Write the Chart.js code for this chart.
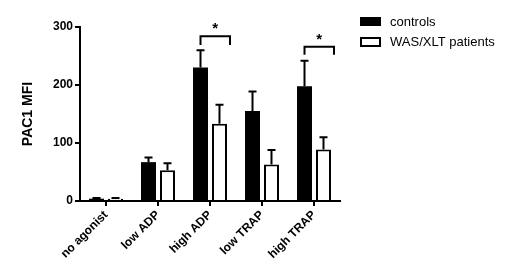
<!DOCTYPE html>
<html>
<head>
<meta charset="utf-8">
<script src="https://cdn.jsdelivr.net/npm/chart.js@4"></script>
<style>
  html, body { margin: 0; padding: 0; background: #fff; }
  #wrap { width: 520px; height: 278px; }
</style>
</head>
<body>
<div id="wrap"><canvas id="chart" width="520" height="278"></canvas></div>
<script>
const categories = ['no agonist', 'low ADP', 'high ADP', 'low TRAP', 'high TRAP'];
const seriesNames = ['controls', 'WAS/XLT patients'];
const controls = [4, 67, 230, 155, 198];
const controlsErr = [1, 8, 30, 34, 44];
const patients = [4, 53, 133, 63, 89];
const patientsErr = [1, 12, 33, 25, 21];
const yTicks = [0, 100, 200, 300];
// significance brackets: group index, bracket top value, drop value
const sigGroups = [2, 4];
const sigTop = [284, 266];
const sigDrop = [269, 252];

const FONT = "Arial, 'Liberation Sans', sans-serif";

// error bars (upward only) + brackets + legend
const extras = {
    id: 'extras',
    afterDatasetsDraw(chart) {
        const ctx = chart.ctx;
        const y = chart.scales.y;
        const errs = [controlsErr, patientsErr];
        const vals = [controls, patients];
        ctx.save();
        ctx.strokeStyle = '#000';
        ctx.lineWidth = 2;
        for (let d = 0; d < 2; d++) {
            const meta = chart.getDatasetMeta(d);
            meta.data.forEach((bar, i) => {
                const top = y.getPixelForValue(vals[d][i] + errs[d][i]);
                const base = y.getPixelForValue(vals[d][i]);
                ctx.beginPath();
                ctx.moveTo(bar.x, base);
                ctx.lineTo(bar.x, top);
                ctx.moveTo(bar.x - 4, top);
                ctx.lineTo(bar.x + 4, top);
                ctx.stroke();
            });
        }
        // brackets
        ctx.lineWidth = 2;
        ctx.fillStyle = '#000';
        ctx.font = 'bold 15px ' + FONT;
        ctx.textAlign = 'center';
        ctx.textBaseline = 'middle';
        sigGroups.forEach((g, k) => {
            const b0 = chart.getDatasetMeta(0).data[g];
            const b1 = chart.getDatasetMeta(1).data[g];
            const x0 = b0.x;
            const x1 = b1.x + b1.width * 0.7;
            const yt = y.getPixelForValue(sigTop[k]);
            const yd = y.getPixelForValue(sigDrop[k]);
            ctx.beginPath();
            ctx.moveTo(x0, yd);
            ctx.lineTo(x0, yt);
            ctx.lineTo(x1, yt);
            ctx.lineTo(x1, yd);
            ctx.stroke();
            ctx.fillText('*', (x0 + x1) / 2, yt - 7);
        });
        // legend
        ctx.font = '13px ' + FONT;
        ctx.textAlign = 'left';
        seriesNames.forEach((name, i) => {
            const ly = 17 + i * 20;
            if (i === 0) {
                ctx.fillStyle = '#000';
                ctx.fillRect(360, ly, 21, 9);
            } else {
                ctx.lineWidth = 2;
                ctx.strokeRect(361, ly + 1, 19, 8);
            }
            ctx.fillStyle = '#000';
            ctx.fillText(name, 390, ly + 5);
        });
        ctx.restore();
    }
};

new Chart(document.getElementById('chart'), {
    type: 'bar',
    data: {
        labels: categories,
        datasets: [
            {
                label: seriesNames[0],
                data: controls,
                backgroundColor: '#000',
                borderColor: '#000',
                borderWidth: 0
            },
            {
                label: seriesNames[1],
                data: patients,
                backgroundColor: '#fff',
                borderColor: '#000',
                borderWidth: 2
            }
        ]
    },
    options: {
        responsive: false,
        animation: false,
        categoryPercentage: 0.73,
        barPercentage: 0.79,
        layout: { padding: { left: 0, right: 180, top: 27, bottom: 0 } },
        plugins: { legend: { display: false }, tooltip: { enabled: false } },
        scales: {
            x: {
                offset: true,
                afterFit(scale) { scale.height = 77; },
                grid: {
                    offset: false,
                    drawOnChartArea: false,
                    drawTicks: true,
                    tickLength: 5,
                    color: '#000',
                    lineWidth: 2
                },
                border: { display: true, color: '#000', width: 2 },
                ticks: {
                    color: '#000',
                    font: { family: FONT, size: 12, weight: 'bold' },
                    minRotation: 45,
                    maxRotation: 45,
                    padding: 2
                }
            },
            y: {
                min: 0,
                max: 300,
                afterFit(scale) { scale.width = 80; },
                afterBuildTicks(scale) { scale.ticks = yTicks.map(v => ({ value: v })); },
                grid: {
                    drawOnChartArea: false,
                    drawTicks: true,
                    tickLength: 5,
                    color: '#000',
                    lineWidth: 2
                },
                border: { display: true, color: '#000', width: 2 },
                ticks: {
                    color: '#000',
                    font: { family: FONT, size: 12, weight: 'bold' },
                    padding: 2
                },
                title: {
                    display: true,
                    text: 'PAC1 MFI',
                    color: '#000',
                    font: { family: FONT, size: 14, weight: 'bold' },
                    padding: { top: 20, bottom: 0 }
                }
            }
        }
    },
    plugins: [extras]
});
</script>
</body>
</html>
